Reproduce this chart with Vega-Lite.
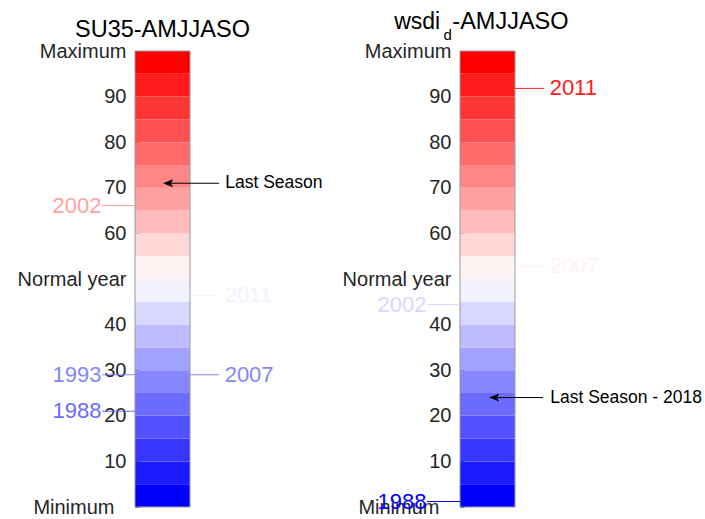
{
  "$schema": "https://vega.github.io/schema/vega-lite/v6.json",
  "padding": {"left": 17, "top": 10, "right": 0, "bottom": 0},
  "background": "white",
  "spacing": 105,
  "bounds": "flush",
  "config": {
    "view": {"stroke": null},
    "font": "Liberation Sans",
    "text": {"font": "Liberation Sans"},
    "axis": {
      "values": [0, 10, 20, 30, 40, 50, 60, 70, 80, 90, 100],
      "labelExpr": "datum.value == 100 ? 'Maximum' : datum.value == 50 ? 'Normal year' : datum.value == 0 ? 'Minimum' : datum.label",
      "title": null,
      "domain": false,
      "grid": false,
      "ticks": true,
      "tickSize": -4,
      "tickColor": "#595959",
      "tickWidth": 1,
      "labelFont": "Liberation Sans",
      "labelFontSize": 20,
      "labelColor": "#262626",
      "labelPadding": {"condition": {"test": "datum.value == 0", "value": 25}, "value": 13},
      "labelBaseline": "middle",
      "labelOverlap": false,
      "labelBound": false,
      "labelFlush": false
    }
  },
  "datasets": {
    "bands": [
      {"lo": 0, "hi": 5}, {"lo": 5, "hi": 10}, {"lo": 10, "hi": 15}, {"lo": 15, "hi": 20},
      {"lo": 20, "hi": 25}, {"lo": 25, "hi": 30}, {"lo": 30, "hi": 35}, {"lo": 35, "hi": 40},
      {"lo": 40, "hi": 45}, {"lo": 45, "hi": 50}, {"lo": 50, "hi": 55}, {"lo": 55, "hi": 60},
      {"lo": 60, "hi": 65}, {"lo": 65, "hi": 70}, {"lo": 70, "hi": 75}, {"lo": 75, "hi": 80},
      {"lo": 80, "hi": 85}, {"lo": 85, "hi": 90}, {"lo": 90, "hi": 95}, {"lo": 95, "hi": 100}
    ],
    "notes": [
      {"panel": "SU35", "year": "2002", "pct": 66.1, "side": "left"},
      {"panel": "SU35", "year": "2011", "pct": 46.4, "side": "right"},
      {"panel": "SU35", "year": "1993", "pct": 29.0, "side": "left"},
      {"panel": "SU35", "year": "2007", "pct": 29.0, "side": "right"},
      {"panel": "SU35", "year": "1988", "pct": 21.0, "side": "left"},
      {"panel": "wsdi", "year": "2011", "pct": 91.8, "side": "right"},
      {"panel": "wsdi", "year": "2007", "pct": 52.8, "side": "right"},
      {"panel": "wsdi", "year": "2002", "pct": 44.4, "side": "left"},
      {"panel": "wsdi", "year": "1988", "pct": 1.2, "side": "left"}
    ],
    "arrows": [
      {"panel": "SU35", "label": "Last Season", "pct": 71.0},
      {"panel": "wsdi", "label": "Last Season - 2018", "pct": 24.0}
    ]
  },
  "hconcat": [
    {
      "width": 220,
      "height": 456,
      "layer": [
        {
          "data": {"name": "bands"},
          "mark": {"type": "rect"},
          "encoding": {
            "x": {"datum": 0, "type": "quantitative", "scale": {"domain": [0, 4], "nice": false, "zero": false}, "axis": null},
            "x2": {"datum": 1},
            "y": {"field": "lo", "type": "quantitative", "scale": {"domain": [0, 100], "nice": false, "zero": false}},
            "y2": {"field": "hi"},
            "color": {"field": "lo", "type": "quantitative", "legend": null,
              "scale": {"type": "quantize", "domain": [0, 100], "nice": false, "range": ["#0000ff", "#1b1bff", "#3636ff", "#5151ff", "#6b6bff", "#8686ff", "#a1a1ff", "#bcbcff", "#d7d7ff", "#f2f2ff", "#fff2f2", "#ffd7d7", "#ffbcbc", "#ffa1a1", "#ff8686", "#ff6b6b", "#ff5151", "#ff3636", "#ff1b1b", "#ff0000"]}}
          }
        },
        {
          "data": {"values": [{"box": "bar"}]},
          "mark": {"type": "rect", "fillOpacity": 0, "stroke": "#9a9a9a", "strokeWidth": 1},
          "encoding": {
            "x": {"datum": 0, "type": "quantitative"},
            "x2": {"datum": 1},
            "y": {"datum": 0, "type": "quantitative"},
            "y2": {"datum": 100}
          }
        },
        {
          "data": {"name": "notes"},
          "transform": [{"filter": "datum.panel == 'SU35' && datum.side == 'right'"}],
          "mark": {"type": "rule", "strokeWidth": 1},
          "encoding": {
            "x": {"datum": 1, "type": "quantitative"},
            "x2": {"datum": 1.53},
            "y": {"field": "pct", "type": "quantitative"},
            "color": {"field": "pct", "type": "quantitative", "legend": null,
              "scale": {"type": "quantize", "domain": [0, 100], "nice": false, "range": ["#0000ff", "#1b1bff", "#3636ff", "#5151ff", "#6b6bff", "#8686ff", "#a1a1ff", "#bcbcff", "#d7d7ff", "#f2f2ff", "#fff2f2", "#ffd7d7", "#ffbcbc", "#ffa1a1", "#ff8686", "#ff6b6b", "#ff5151", "#ff3636", "#ff1b1b", "#ff0000"]}}
          }
        },
        {
          "data": {"name": "notes"},
          "transform": [{"filter": "datum.panel == 'SU35' && datum.side == 'right'"}],
          "mark": {"type": "text", "align": "left", "baseline": "middle", "fontSize": 22},
          "encoding": {
            "x": {"datum": 1.63, "type": "quantitative"},
            "y": {"field": "pct", "type": "quantitative"},
            "text": {"field": "year"},
            "color": {"field": "pct", "type": "quantitative", "legend": null,
              "scale": {"type": "quantize", "domain": [0, 100], "nice": false, "range": ["#0000ff", "#1b1bff", "#3636ff", "#5151ff", "#6b6bff", "#8686ff", "#a1a1ff", "#bcbcff", "#d7d7ff", "#f2f2ff", "#fff2f2", "#ffd7d7", "#ffbcbc", "#ffa1a1", "#ff8686", "#ff6b6b", "#ff5151", "#ff3636", "#ff1b1b", "#ff0000"]}}
          }
        },
        {
          "data": {"name": "notes"},
          "transform": [{"filter": "datum.panel == 'SU35' && datum.side == 'left'"}],
          "mark": {"type": "rule", "strokeWidth": 1},
          "encoding": {
            "x": {"datum": -0.6, "type": "quantitative"},
            "x2": {"datum": 0},
            "y": {"field": "pct", "type": "quantitative"},
            "color": {"field": "pct", "type": "quantitative", "legend": null,
              "scale": {"type": "quantize", "domain": [0, 100], "nice": false, "range": ["#0000ff", "#1b1bff", "#3636ff", "#5151ff", "#6b6bff", "#8686ff", "#a1a1ff", "#bcbcff", "#d7d7ff", "#f2f2ff", "#fff2f2", "#ffd7d7", "#ffbcbc", "#ffa1a1", "#ff8686", "#ff6b6b", "#ff5151", "#ff3636", "#ff1b1b", "#ff0000"]}}
          }
        },
        {
          "data": {"name": "notes"},
          "transform": [{"filter": "datum.panel == 'SU35' && datum.side == 'left'"}],
          "mark": {"type": "text", "align": "right", "baseline": "middle", "fontSize": 22},
          "encoding": {
            "x": {"datum": -0.61, "type": "quantitative"},
            "y": {"field": "pct", "type": "quantitative"},
            "text": {"field": "year"},
            "color": {"field": "pct", "type": "quantitative", "legend": null,
              "scale": {"type": "quantize", "domain": [0, 100], "nice": false, "range": ["#0000ff", "#1b1bff", "#3636ff", "#5151ff", "#6b6bff", "#8686ff", "#a1a1ff", "#bcbcff", "#d7d7ff", "#f2f2ff", "#fff2f2", "#ffd7d7", "#ffbcbc", "#ffa1a1", "#ff8686", "#ff6b6b", "#ff5151", "#ff3636", "#ff1b1b", "#ff0000"]}}
          }
        },
        {
          "data": {"name": "arrows"},
          "transform": [{"filter": "datum.panel == 'SU35'"}],
          "mark": {"type": "rule", "strokeWidth": 1, "color": "#000000"},
          "encoding": {
            "x": {"datum": 0.56, "type": "quantitative"},
            "x2": {"datum": 1.53},
            "y": {"field": "pct", "type": "quantitative"}
          }
        },
        {
          "data": {"name": "arrows"},
          "transform": [{"filter": "datum.panel == 'SU35'"}],
          "mark": {"type": "point", "shape": "M0,0L2,-0.8L1.6,0L2,0.8Z", "size": 100, "filled": true, "opacity": 1, "color": "#000000", "strokeWidth": 0},
          "encoding": {
            "x": {"datum": 0.51, "type": "quantitative"},
            "y": {"field": "pct", "type": "quantitative"}
          }
        },
        {
          "data": {"name": "arrows"},
          "transform": [{"filter": "datum.panel == 'SU35'"}],
          "mark": {"type": "text", "align": "left", "baseline": "middle", "fontSize": 17.5, "color": "#000000"},
          "encoding": {
            "x": {"datum": 1.64, "type": "quantitative"},
            "y": {"field": "pct", "type": "quantitative"},
            "text": {"field": "label"}
          }
        },
        {
          "data": {"values": [{"title": "SU35-AMJJASO"}]},
          "mark": {"type": "text", "align": "center", "baseline": "alphabetic", "fontSize": 23.5, "color": "#000000"},
          "encoding": {
            "x": {"datum": 0.5, "type": "quantitative"},
            "y": {"datum": 103.1, "type": "quantitative"},
            "text": {"field": "title"}
          }
        }
      ]
    },
    {
      "width": 220,
      "height": 456,
      "layer": [
        {
          "data": {"name": "bands"},
          "mark": {"type": "rect"},
          "encoding": {
            "x": {"datum": 0, "type": "quantitative", "scale": {"domain": [0, 4], "nice": false, "zero": false}, "axis": null},
            "x2": {"datum": 1},
            "y": {"field": "lo", "type": "quantitative", "scale": {"domain": [0, 100], "nice": false, "zero": false}},
            "y2": {"field": "hi"},
            "color": {"field": "lo", "type": "quantitative", "legend": null,
              "scale": {"type": "quantize", "domain": [0, 100], "nice": false, "range": ["#0000ff", "#1b1bff", "#3636ff", "#5151ff", "#6b6bff", "#8686ff", "#a1a1ff", "#bcbcff", "#d7d7ff", "#f2f2ff", "#fff2f2", "#ffd7d7", "#ffbcbc", "#ffa1a1", "#ff8686", "#ff6b6b", "#ff5151", "#ff3636", "#ff1b1b", "#ff0000"]}}
          }
        },
        {
          "data": {"values": [{"box": "bar"}]},
          "mark": {"type": "rect", "fillOpacity": 0, "stroke": "#9a9a9a", "strokeWidth": 1},
          "encoding": {
            "x": {"datum": 0, "type": "quantitative"},
            "x2": {"datum": 1},
            "y": {"datum": 0, "type": "quantitative"},
            "y2": {"datum": 100}
          }
        },
        {
          "data": {"name": "notes"},
          "transform": [{"filter": "datum.panel == 'wsdi' && datum.side == 'right'"}],
          "mark": {"type": "rule", "strokeWidth": 1},
          "encoding": {
            "x": {"datum": 1, "type": "quantitative"},
            "x2": {"datum": 1.53},
            "y": {"field": "pct", "type": "quantitative"},
            "color": {"field": "pct", "type": "quantitative", "legend": null,
              "scale": {"type": "quantize", "domain": [0, 100], "nice": false, "range": ["#0000ff", "#1b1bff", "#3636ff", "#5151ff", "#6b6bff", "#8686ff", "#a1a1ff", "#bcbcff", "#d7d7ff", "#f2f2ff", "#fff2f2", "#ffd7d7", "#ffbcbc", "#ffa1a1", "#ff8686", "#ff6b6b", "#ff5151", "#ff3636", "#ff1b1b", "#ff0000"]}}
          }
        },
        {
          "data": {"name": "notes"},
          "transform": [{"filter": "datum.panel == 'wsdi' && datum.side == 'right'"}],
          "mark": {"type": "text", "align": "left", "baseline": "middle", "fontSize": 22},
          "encoding": {
            "x": {"datum": 1.63, "type": "quantitative"},
            "y": {"field": "pct", "type": "quantitative"},
            "text": {"field": "year"},
            "color": {"field": "pct", "type": "quantitative", "legend": null,
              "scale": {"type": "quantize", "domain": [0, 100], "nice": false, "range": ["#0000ff", "#1b1bff", "#3636ff", "#5151ff", "#6b6bff", "#8686ff", "#a1a1ff", "#bcbcff", "#d7d7ff", "#f2f2ff", "#fff2f2", "#ffd7d7", "#ffbcbc", "#ffa1a1", "#ff8686", "#ff6b6b", "#ff5151", "#ff3636", "#ff1b1b", "#ff0000"]}}
          }
        },
        {
          "data": {"name": "notes"},
          "transform": [{"filter": "datum.panel == 'wsdi' && datum.side == 'left'"}],
          "mark": {"type": "rule", "strokeWidth": 1},
          "encoding": {
            "x": {"datum": -0.6, "type": "quantitative"},
            "x2": {"datum": 0},
            "y": {"field": "pct", "type": "quantitative"},
            "color": {"field": "pct", "type": "quantitative", "legend": null,
              "scale": {"type": "quantize", "domain": [0, 100], "nice": false, "range": ["#0000ff", "#1b1bff", "#3636ff", "#5151ff", "#6b6bff", "#8686ff", "#a1a1ff", "#bcbcff", "#d7d7ff", "#f2f2ff", "#fff2f2", "#ffd7d7", "#ffbcbc", "#ffa1a1", "#ff8686", "#ff6b6b", "#ff5151", "#ff3636", "#ff1b1b", "#ff0000"]}}
          }
        },
        {
          "data": {"name": "notes"},
          "transform": [{"filter": "datum.panel == 'wsdi' && datum.side == 'left'"}],
          "mark": {"type": "text", "align": "right", "baseline": "middle", "fontSize": 22},
          "encoding": {
            "x": {"datum": -0.61, "type": "quantitative"},
            "y": {"field": "pct", "type": "quantitative"},
            "text": {"field": "year"},
            "color": {"field": "pct", "type": "quantitative", "legend": null,
              "scale": {"type": "quantize", "domain": [0, 100], "nice": false, "range": ["#0000ff", "#1b1bff", "#3636ff", "#5151ff", "#6b6bff", "#8686ff", "#a1a1ff", "#bcbcff", "#d7d7ff", "#f2f2ff", "#fff2f2", "#ffd7d7", "#ffbcbc", "#ffa1a1", "#ff8686", "#ff6b6b", "#ff5151", "#ff3636", "#ff1b1b", "#ff0000"]}}
          }
        },
        {
          "data": {"name": "arrows"},
          "transform": [{"filter": "datum.panel == 'wsdi'"}],
          "mark": {"type": "rule", "strokeWidth": 1, "color": "#000000"},
          "encoding": {
            "x": {"datum": 0.58, "type": "quantitative"},
            "x2": {"datum": 1.51},
            "y": {"field": "pct", "type": "quantitative"}
          }
        },
        {
          "data": {"name": "arrows"},
          "transform": [{"filter": "datum.panel == 'wsdi'"}],
          "mark": {"type": "point", "shape": "M0,0L2,-0.8L1.6,0L2,0.8Z", "size": 100, "filled": true, "opacity": 1, "color": "#000000", "strokeWidth": 0},
          "encoding": {
            "x": {"datum": 0.53, "type": "quantitative"},
            "y": {"field": "pct", "type": "quantitative"}
          }
        },
        {
          "data": {"name": "arrows"},
          "transform": [{"filter": "datum.panel == 'wsdi'"}],
          "mark": {"type": "text", "align": "left", "baseline": "middle", "fontSize": 17.5, "color": "#000000"},
          "encoding": {
            "x": {"datum": 1.64, "type": "quantitative"},
            "y": {"field": "pct", "type": "quantitative"},
            "text": {"field": "label"}
          }
        },
        {
          "data": {"values": [{"title": "wsdi"}]},
          "mark": {"type": "text", "align": "right", "baseline": "alphabetic", "fontSize": 23, "color": "#000000"},
          "encoding": {
            "x": {"datum": -0.36, "type": "quantitative"},
            "y": {"datum": 104.8, "type": "quantitative"},
            "text": {"field": "title"}
          }
        },
        {
          "data": {"values": [{"title": "d"}]},
          "mark": {"type": "text", "align": "left", "baseline": "alphabetic", "fontSize": 15, "color": "#000000"},
          "encoding": {
            "x": {"datum": -0.3, "type": "quantitative"},
            "y": {"datum": 102.4, "type": "quantitative"},
            "text": {"field": "title"}
          }
        },
        {
          "data": {"values": [{"title": "-AMJJASO"}]},
          "mark": {"type": "text", "align": "left", "baseline": "alphabetic", "fontSize": 23.5, "color": "#000000"},
          "encoding": {
            "x": {"datum": -0.14, "type": "quantitative"},
            "y": {"datum": 104.8, "type": "quantitative"},
            "text": {"field": "title"}
          }
        }
      ]
    }
  ]
}
